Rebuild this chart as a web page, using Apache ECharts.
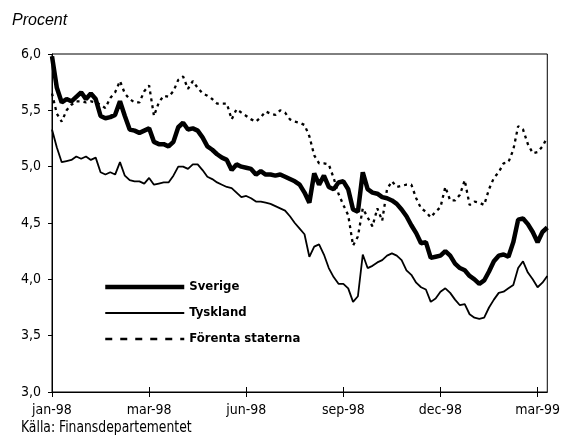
<!DOCTYPE html>
<html>
<head>
<meta charset="utf-8">
<script src="https://cdn.jsdelivr.net/npm/echarts@6/dist/echarts.min.js"></script>
<style>
  html, body { margin: 0; padding: 0; background: #fff; }
  #main { width: 563px; height: 444px; }
</style>
</head>
<body>
<div id="main"></div>
<script>
// tick labels, one every 20 points
var tickLabels = ['jan-98', 'mar-98', 'jun-98', 'sep-98', 'dec-98', 'mar-99'];

// räntor, procent
var sverige = [
  5.98, 5.70, 5.57, 5.60, 5.58, 5.62, 5.66, 5.60, 5.65, 5.60,
  5.45, 5.43, 5.44, 5.46, 5.58, 5.45, 5.33, 5.32, 5.30, 5.32,
  5.34, 5.22, 5.20, 5.20, 5.18, 5.22, 5.35, 5.39, 5.33, 5.34,
  5.32, 5.26, 5.18, 5.15, 5.11, 5.08, 5.06, 4.97, 5.02, 5.00,
  4.99, 4.98, 4.93, 4.96, 4.93, 4.93, 4.92, 4.93, 4.91, 4.89,
  4.87, 4.84, 4.77, 4.68, 4.94, 4.84, 4.92, 4.82, 4.80, 4.86,
  4.87, 4.80, 4.62, 4.60, 4.95, 4.80, 4.77, 4.76, 4.73, 4.72,
  4.70, 4.67, 4.62, 4.56, 4.48, 4.41, 4.32, 4.33, 4.19, 4.20,
  4.21, 4.25, 4.21, 4.14, 4.10, 4.08, 4.03, 4.00, 3.96, 3.99,
  4.07, 4.16, 4.21, 4.22, 4.20, 4.33, 4.53, 4.54, 4.49, 4.42,
  4.33, 4.42, 4.46
];

var tyskland = [
  5.33, 5.17, 5.04, 5.05, 5.06, 5.09, 5.07, 5.09, 5.06, 5.08,
  4.95, 4.93, 4.95, 4.93, 5.04, 4.92, 4.88, 4.87, 4.87, 4.85,
  4.90, 4.84, 4.85, 4.86, 4.86, 4.92, 5.00, 5.00, 4.98, 5.02,
  5.02, 4.97, 4.91, 4.89, 4.86, 4.84, 4.82, 4.81, 4.77, 4.73,
  4.74, 4.72, 4.69, 4.69, 4.68, 4.67, 4.65, 4.63, 4.61, 4.56,
  4.50, 4.45, 4.40, 4.20, 4.29, 4.31, 4.22, 4.10, 4.02, 3.96,
  3.96, 3.92, 3.80, 3.85, 4.22, 4.10, 4.12, 4.15, 4.17, 4.21,
  4.23, 4.21, 4.17, 4.08, 4.04, 3.97, 3.93, 3.91, 3.80, 3.83,
  3.89, 3.92, 3.88, 3.82, 3.77, 3.78, 3.69, 3.66, 3.65, 3.66,
  3.75, 3.82, 3.88, 3.89, 3.92, 3.95, 4.10, 4.16, 4.06, 4.00,
  3.93, 3.97, 4.03
];

var forentaStaterna = [
  5.65, 5.47, 5.40, 5.50, 5.55, 5.58, 5.58, 5.57, 5.58, 5.57,
  5.55, 5.52, 5.61, 5.66, 5.76, 5.65, 5.60, 5.57, 5.57, 5.67,
  5.72, 5.45, 5.57, 5.63, 5.62, 5.67, 5.77, 5.80, 5.69, 5.76,
  5.70, 5.65, 5.63, 5.60, 5.56, 5.56, 5.56, 5.42, 5.51, 5.48,
  5.45, 5.42, 5.40, 5.44, 5.49, 5.47, 5.46, 5.50, 5.48, 5.42,
  5.40, 5.39, 5.37, 5.27, 5.10, 5.03, 5.03, 5.02, 4.90, 4.76,
  4.66, 4.57, 4.30, 4.38, 4.63, 4.55, 4.47, 4.63, 4.52, 4.80,
  4.87, 4.82, 4.83, 4.84, 4.84, 4.72, 4.63, 4.60, 4.55, 4.60,
  4.64, 4.82, 4.70, 4.70, 4.75, 4.88, 4.66, 4.69, 4.68, 4.66,
  4.80, 4.90, 4.95, 5.03, 5.04, 5.15, 5.36, 5.33, 5.20, 5.12,
  5.13, 5.18, 5.26
];

var categories = sverige.map(function (v, i) { return i; });

var narrow = "'DejaVu Sans Condensed', 'DejaVu Sans', sans-serif";

var myChart = echarts.init(document.getElementById('main'));
myChart.setOption({
  animation: false,
  backgroundColor: '#fff',
  grid: {
    left: 52, right: 8, top: 54, bottom: 52,
    show: true, borderColor: '#000', borderWidth: 1
  },
  graphic: [
    {
      type: 'text', left: 12, top: 13,
      style: { text: 'Procent', font: 'italic 16px "Liberation Sans", Arial, sans-serif', fill: '#000' }
    },
    {
      type: 'text', x: 21, y: 420, scaleX: 0.86,
      style: { text: 'Källa: Finansdepartementet', font: '16px ' + narrow, fill: '#000' }
    }
  ],
  legend: {
    orient: 'vertical',
    left: 98, top: 275,
    itemWidth: 79, itemHeight: 14, itemGap: 12,
    itemStyle: { opacity: 0 },
    textStyle: { fontFamily: narrow, fontSize: 13, fontWeight: 'bold', color: '#000', lineHeight: 14 },
    data: [
      { name: 'Sverige', lineStyle: { width: 4.5, color: '#000' } },
      { name: 'Tyskland', lineStyle: { width: 1.8, color: '#000' } },
      { name: 'Förenta staterna', lineStyle: { type: [7, 8], width: 2.5, color: '#000' } }
    ]
  },
  xAxis: [
    {
      type: 'category',
      data: categories,
      boundaryGap: false,
      axisLine: { lineStyle: { color: '#000', width: 1 } },
      axisTick: { interval: 19, length: 5, lineStyle: { color: '#000' } },
      axisLabel: {
        interval: 19, margin: 11,
        fontFamily: narrow, fontSize: 14, color: '#000',
        formatter: function (v, i) { return i % 20 === 0 ? tickLabels[i / 20] : ''; }
      }
    },
    {
      type: 'category',
      data: categories,
      position: 'bottom',
      boundaryGap: false,
      axisLine: { show: false },
      axisTick: { inside: true, interval: 19, length: 5, lineStyle: { color: '#000' } },
      axisLabel: { show: false }
    }
  ],
  yAxis: {
    type: 'value',
    min: 3, max: 6, interval: 0.5,
    axisLine: { show: true, lineStyle: { color: '#000', width: 1 } },
    axisTick: { show: true, length: 4, lineStyle: { color: '#000' } },
    splitLine: { show: false },
    axisLabel: {
      margin: 11,
      fontFamily: narrow, fontSize: 14, color: '#000',
      formatter: function (v) { return v.toFixed(1).replace('.', ','); }
    }
  },
  series: [
    {
      name: 'Förenta staterna', type: 'line', data: forentaStaterna,
      symbol: 'none',
      lineStyle: { color: '#000', width: 2.3, type: [3, 4] }
    },
    {
      name: 'Tyskland', type: 'line', data: tyskland,
      symbol: 'none',
      lineStyle: { color: '#000', width: 1.8 }
    },
    {
      name: 'Sverige', type: 'line', data: sverige,
      symbol: 'none',
      lineStyle: { color: '#000', width: 4.5 }
    }
  ]
});
</script>
</body>
</html>
